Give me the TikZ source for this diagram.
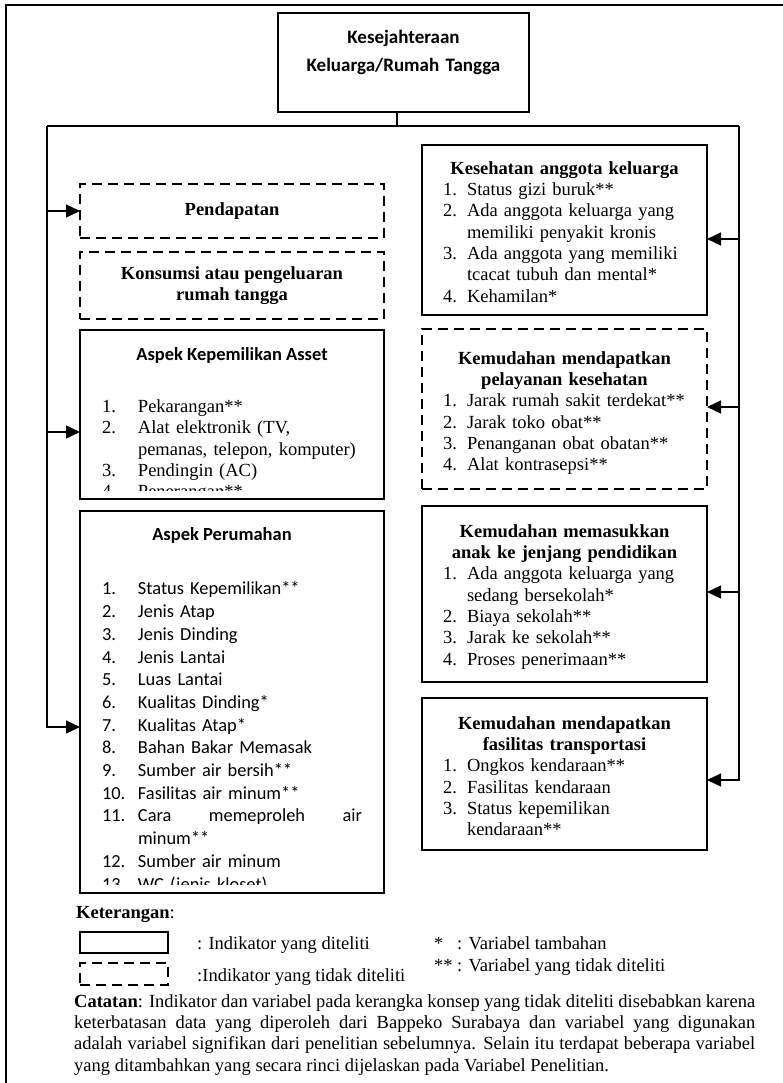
\documentclass[tikz,border=0pt]{standalone}
\usepackage{fontspec}
\setmainfont{Liberation Serif}
\newfontfamily\calibri{Carlito}
\usetikzlibrary{arrows.meta}

\newlength{\numwd}
\newcommand{\indik}[2]{\par\noindent\hangindent=\numwd\hangafter=1\makebox[\numwd][l]{\strut#1}#2}
\newcommand{\timesfont}{\fontsize{18.5}{21.3}\selectfont}
\newcommand{\calfont}{\calibri\fontsize{18.4}{22.7}\selectfont}

\tikzset{
  solidbox/.style={draw, rectangle, line width=2pt, inner sep=0pt, outer sep=0pt, anchor=north west},
  dashbox/.style={solidbox, dash pattern=on 10pt off 6pt},
  boxtext/.style={anchor=north, inner sep=0pt, text width=#1, align=left, font=\timesfont},
  link/.style={line width=1.3pt},
  feed/.style={link, -{Triangle[length=14pt,width=13pt]}}
}

\begin{document}
\begin{tikzpicture}[x=1pt, y=-1pt]
  \useasboundingbox (0,0) rectangle (783,1083);
  \draw[line width=1.5pt] (783,5) -- (6,5) -- (6,1083);

  % top
  \node[solidbox, line width=2.4pt, minimum width=251pt, minimum height=99pt] (top) at (278,13) {};
  \node[anchor=north, inner sep=0pt, text width=240pt, align=center,
        font=\calibri\bfseries\fontsize{19}{28}\selectfont] (topT) at ([yshift=-10.7pt]top.north)
        {\strut Kesejahteraan\\Keluarga/Rumah Tangga};

  % left column
  \node[dashbox, minimum width=304pt, minimum height=54pt, font=\timesfont\bfseries] (pend) at (80,184) {Pendapatan};
  \node[dashbox, minimum width=304pt, minimum height=67pt, align=center, font=\timesfont\bfseries] (kons) at (80,252)
        {Konsumsi atau pengeluaran\\rumah tangga};
  \node[solidbox, minimum width=304pt, minimum height=169pt] (aset) at (80,330) {};
  \node[solidbox, minimum width=304pt, minimum height=382pt] (rumah) at (80,511) {};

  \node[anchor=base, inner sep=0pt, font=\calibri\bfseries\fontsize{18.5}{22}\selectfont] (asetH)
        at ([yshift=-30pt]aset.north) {Aspek Kepemilikan Asset};
  \begin{scope}
    \clip (aset.north west) rectangle ([yshift=9pt]aset.south east);
    \node[boxtext=260pt] (asetL) at ([yshift=-61pt]aset.north) {\setlength{\numwd}{36pt}%
      \indik{1.}{Pekarangan**}
      \indik{2.}{Alat elektronik (TV,\newline pemanas, telepon, komputer)}
      \indik{3.}{Pendingin (AC)}
      \indik{4.}{Penerangan**}\par};
  \end{scope}

  \node[anchor=base, inner sep=0pt, font=\calibri\bfseries\fontsize{18.5}{22}\selectfont] (rumahH)
        at ([yshift=-29pt, xshift=-10pt]rumah.north) {Aspek Perumahan};
  \begin{scope}
    \clip (rumah.north west) rectangle ([yshift=9pt]rumah.south east);
    \node[boxtext=260pt, font=\calfont] (rumahL) at ([yshift=-61pt]rumah.north) {\setlength{\numwd}{36pt}%
      \indik{1.}{Status Kepemilikan**}
      \indik{2.}{Jenis Atap}
      \indik{3.}{Jenis Dinding}
      \indik{4.}{Jenis Lantai}
      \indik{5.}{Luas Lantai}
      \indik{6.}{Kualitas Dinding*}
      \indik{7.}{Kualitas Atap*}
      \indik{8.}{Bahan Bakar Memasak}
      \indik{9.}{Sumber air bersih**}
      \indik{10.}{Fasilitas air minum**}
      \indik{11.}{\makebox[224pt][l]{Cara\hfill memeproleh\hfill air}\newline minum**}
      \indik{12.}{Sumber air minum}
      \indik{13.}{WC (jenis kloset)}\par};
  \end{scope}

  % right column
  \node[solidbox, minimum width=285pt, minimum height=170pt] (sehat) at (422,145) {};
  \node[dashbox, minimum width=285pt, minimum height=160pt] (layan) at (422,329) {};
  \node[solidbox, minimum width=285pt, minimum height=176pt] (didik) at (422,506) {};
  \node[solidbox, minimum width=285pt, minimum height=152pt] (trans) at (422,698) {};

  \node[boxtext=243pt] (sehatT) at ([yshift=-14.2pt]sehat.north) {\setlength{\numwd}{24pt}%
    {\centering\bfseries\strut Kesehatan anggota keluarga\par}
    \indik{1.}{Status gizi buruk**}
    \indik{2.}{Ada anggota keluarga yang\newline memiliki penyakit kronis}
    \indik{3.}{Ada anggota yang memiliki\newline tcacat tubuh dan mental*}
    \indik{4.}{Kehamilan*}\par};
  \node[boxtext=243pt] (layanT) at ([yshift=-20.2pt]layan.north) {\setlength{\numwd}{24pt}%
    {\centering\bfseries\strut Kemudahan mendapatkan\\pelayanan kesehatan\par}
    \indik{1.}{Jarak rumah sakit terdekat**}
    \indik{2.}{Jarak toko obat**}
    \indik{3.}{Penanganan obat obatan**}
    \indik{4.}{Alat kontrasepsi**}\par};
  \node[boxtext=243pt] (didikT) at ([yshift=-16.2pt]didik.north) {\setlength{\numwd}{24pt}%
    {\centering\bfseries\strut Kemudahan memasukkan\\anak ke jenjang pendidikan\par}
    \indik{1.}{Ada anggota keluarga yang\newline sedang bersekolah*}
    \indik{2.}{Biaya sekolah**}
    \indik{3.}{Jarak ke sekolah**}
    \indik{4.}{Proses penerimaan**}\par};
  \node[boxtext=243pt] (transT) at ([yshift=-16.2pt]trans.north) {\setlength{\numwd}{24pt}%
    {\centering\bfseries\strut Kemudahan mendapatkan\\fasilitas transportasi\par}
    \indik{1.}{Ongkos kendaraan**}
    \indik{2.}{Fasilitas kendaraan}
    \indik{3.}{Status kepemilikan\newline kendaraan**}\par};

  % connectors
  \coordinate (split) at (397,126);
  \coordinate (busL) at (47,126);
  \coordinate (busR) at (739,126);
  \coordinate (asetIn) at ([yshift=-17.5pt]aset.west);
  \coordinate (rumahIn) at ([yshift=-25pt]rumah.west);
  \coordinate (sehatIn) at ([yshift=-9pt]sehat.east);
  \coordinate (layanIn) at ([yshift=2pt]layan.east);
  \coordinate (didikIn) at ([yshift=2pt]didik.east);
  \coordinate (transIn) at ([yshift=-6pt]trans.east);
  \draw[link] (top.south -| split) -- (split);
  \draw[link] (busL) -- (busR);
  \draw[feed] (busL |- pend.west) -- (pend.west);
  \draw[feed] (busL |- asetIn) -- (asetIn);
  \draw[feed] (busL) |- (rumahIn);
  \draw[feed] (busR |- sehatIn) -- (sehatIn);
  \draw[feed] (busR |- layanIn) -- (layanIn);
  \draw[feed] (busR |- didikIn) -- (didikIn);
  \draw[feed] (busR) |- (transIn);

  % legend
  \node[anchor=base west, inner sep=0pt, font=\timesfont] (ket) at (76,918) {\textbf{Keterangan}:};
  \node[solidbox, minimum width=88pt, minimum height=21pt] (legS) at (80,932) {};
  \node[dashbox, minimum width=88pt, minimum height=22pt] (legD) at (80,963) {};
  \node[anchor=base west, inner sep=0pt, font=\timesfont] (legST) at (197,949) {: Indikator yang diteliti};
  \node[anchor=base west, inner sep=0pt, font=\timesfont] (legDT) at (197,981) {:Indikator yang tidak diteliti};
  \node[anchor=base west, inner sep=0pt, font=\timesfont] (starA) at (434,949) {\makebox[23pt][l]{*}: Variabel tambahan};
  \node[anchor=base west, inner sep=0pt, font=\timesfont] (starB) at (434,971) {\makebox[23pt][l]{**}: Variabel yang tidak diteliti};
  \node[anchor=north west, inner sep=0pt, text width=681pt, align=justify, font=\timesfont] (note) at (74,992.2)
    {\strut\textbf{Catatan}: Indikator dan variabel pada kerangka konsep yang tidak diteliti disebabkan karena\linebreak
     keterbatasan data yang diperoleh dari Bappeko Surabaya dan variabel yang digunakan\linebreak
     adalah variabel signifikan dari penelitian sebelumnya. Selain itu terdapat beberapa variabel\linebreak
     yang ditambahkan yang secara rinci dijelaskan pada Variabel Penelitian.};
\end{tikzpicture}
\end{document}
